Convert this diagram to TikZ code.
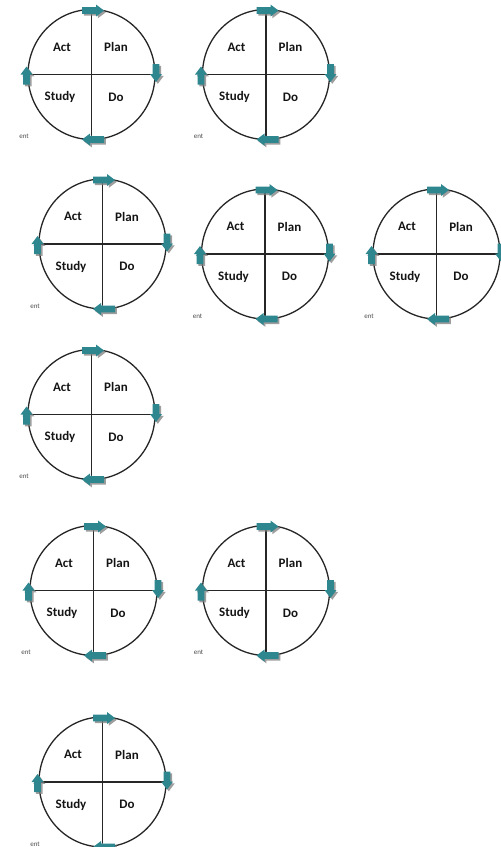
\documentclass[tikz,border=0pt]{standalone}
\usepackage{fontspec}
\setmainfont{Carlito}
\definecolor{pdteal}{RGB}{46,134,143}
\definecolor{pdshade}{RGB}{125,125,125}
\tikzset{
  ring/.style={draw=black!85, line width=1.3pt},
  axisline/.style={draw=black!85, line width=1.3pt},
  lbl/.style={font=\fontsize{13}{15}\selectfont\bfseries, text=black!92, inner sep=0pt},
  tinylbl/.style={font=\fontsize{7}{8}\selectfont, text=black!70, inner sep=0pt},
  arrfill/.style={fill=pdteal},
  arrshade/.style={fill=pdshade, opacity=0.75},
}
% #1 x, #2 y, #3 angle, #4 length
\newcommand\blockarr[4]{%
  \begin{scope}[shift={(#1+1.8,#2+1.8)},rotate=#3]
    \fill[arrshade] (-#4/2,-3.4) -- (#4/2-8,-3.4) -- (#4/2-8,-6) -- (#4/2,0) -- (#4/2-8,6) -- (#4/2-8,3.4) -- (-#4/2,3.4) -- cycle;
  \end{scope}
  \begin{scope}[shift={(#1,#2)},rotate=#3]
    \fill[arrfill] (-#4/2,-3.4) -- (#4/2-8,-3.4) -- (#4/2-8,-6) -- (#4/2,0) -- (#4/2-8,6) -- (#4/2-8,3.4) -- (-#4/2,3.4) -- cycle;
  \end{scope}}
% #1 name, #2 cx, #3 cy
\newcommand\pdsacycle[3]{%
  \begin{scope}[shift={(#2,#3)}]
    \coordinate (#1-c) at (0,0);
    \coordinate (#1-n) at (0,-65);
    \coordinate (#1-s) at (0,65);
    \coordinate (#1-w) at (-63.5,0);
    \coordinate (#1-e) at (63.5,0);
    \draw[ring] (#1-c) ellipse [x radius=63.5pt, y radius=65pt];
    \draw[axisline] (#1-n) -- (#1-s);
    \draw[axisline] (#1-w) -- (#1-e);
    \node[lbl] (#1-act) at (-29.5,-27.5) {Act};
    \node[lbl] (#1-plan) at (24.5,-27.5) {Plan};
    \node[lbl] (#1-study) at (-31.5,22.5) {Study};
    \node[lbl] (#1-do) at (24.5,22.5) {Do};
    \node[tinylbl] (#1-ent) at (-67.5,62) {ent};
    \blockarr{1.5}{-64}{0}{22}
    \blockarr{64.5}{-1.5}{-90}{18}
    \blockarr{1.5}{65}{180}{22}
    \blockarr{-65}{1}{90}{18}
  \end{scope}}
\begin{document}
\begin{tikzpicture}[x=1pt,y=-1pt]
  \useasboundingbox (0,0) rectangle (501,847);
  \pdsacycle{ra}{91.5}{74.5}
  \pdsacycle{rb}{266}{74.5}
  \pdsacycle{rc}{102.5}{244}
  \pdsacycle{rd}{265}{254}
  \pdsacycle{re}{436.5}{254}
  \pdsacycle{rf}{91.5}{414.5}
  \pdsacycle{rg}{93.5}{590.5}
  \pdsacycle{rh}{266}{590.5}
  \pdsacycle{ri}{102.5}{782}
\end{tikzpicture}
\end{document}
